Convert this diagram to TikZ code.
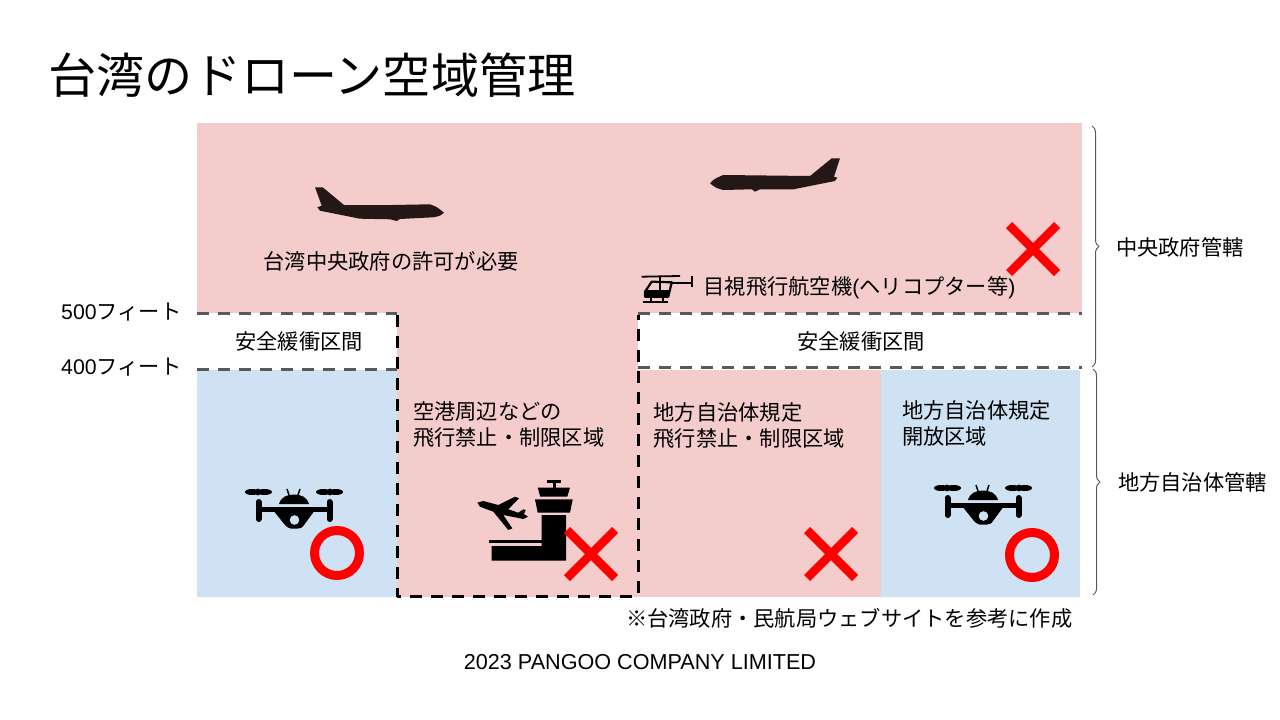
\documentclass[tikz,border=0pt]{standalone}
\usepackage{fontspec}
\setmainfont{Noto Sans CJK JP}
\newfontfamily\latinfont{Liberation Sans}
\usetikzlibrary{decorations.pathreplacing}
\definecolor{zonered}{HTML}{F4CCCC}
\definecolor{zoneblue}{HTML}{CFE2F3}
\definecolor{planeblk}{HTML}{231815}
\definecolor{dashgray}{HTML}{595959}
\definecolor{bracegray}{HTML}{595959}
\definecolor{markred}{HTML}{FF0000}
\tikzset{
  bodytext/.style={font=\fontsize{21.25}{26}\selectfont, text=black, inner sep=0pt, align=left},
  feettext/.style={bodytext, anchor=west},
  grayline/.style={dashgray, line width=3pt, dash pattern=on 12pt off 9pt},
  blackline/.style={black, line width=3pt, dash pattern=on 12pt off 9pt},
  bracket/.style={bracegray, line width=1pt, decorate, decoration={brace, amplitude=7pt, aspect=0.5}},
  nomark/.style={markred, line width=8.5pt},
  okmark/.style={markred, line width=9pt},
  droneicon/.pic={
    \fill (-42,-18) ellipse (7pt and 3pt) (-29.5,-18) ellipse (7.5pt and 3pt) (-36,-18) circle (3.4pt);
    \fill (29.5,-18) ellipse (7.5pt and 3pt) (42,-18) ellipse (7pt and 3pt) (36,-18) circle (3.4pt);
    \draw[line width=6pt, line cap=round] (-35.5,-8) -- (-35.5,9) (35.5,-8) -- (35.5,9);
    \draw[line width=5pt] (-35.5,-0.5) -- (35.5,-0.5);
    \fill (-15,-6) .. controls (-13,-13) and (-7,-15.5) .. (0,-15.5) .. controls (7,-15.5) and (13,-13) .. (15,-6) -- cycle;
    \draw[line width=1.5pt] (-5,-15) -- (-7,-21) (4,-15) -- (6,-21);
    \fill (-21,0) -- (-9,15) .. controls (-6,18) and (-4,18.5) .. (-3,18.5) -- (4,18.5) .. controls (6,18.5) and (8,18) .. (10,15) -- (21,0) -- cycle;
    \fill[zoneblue] (0.5,10) circle (4.8pt);
  }
}

\begin{document}
\begin{tikzpicture}[x=1pt, y=-1pt, line join=round]
\useasboundingbox (0,0) rectangle (1280,720);
\fill[white] (0,0) rectangle (1280,720);

% Title
\node[font=\fontsize{48.1}{56}\selectfont, inner sep=0pt, anchor=west] (title) at (48.5,75) {台湾のドローン空域管理};

% Zones
\fill[zonered] (197,123) rectangle (1082,313);
\fill[zonered] (397,313) rectangle (638,597);
\fill[zonered] (638,370) rectangle (881,597);
\fill[zoneblue] (197,370) rectangle (397,597);
\fill[zoneblue] (881,370) rectangle (1080,597);

% Dashed boundaries
\draw[blackline] (397,315) -- (397,596) -- (638,596) -- (638,315);
\draw[grayline] (197,313) -- (397,313);
\draw[grayline] (197,369) -- (397,369);
\draw[grayline] (638,313) -- (1082,313);
\draw[grayline] (638,367) -- (1082,367);

% Altitude labels
\node[feettext] (ft500) at (61,312) {{\latinfont 500}フィート};
\node[feettext] (ft400) at (61,367) {{\latinfont 400}フィート};

% Zone labels
\node[bodytext] (bufferL) at (299,341) {安全緩衝区間};
\node[bodytext] (bufferR) at (861,341) {安全緩衝区間};
\node[bodytext] (permit) at (391,261) {台湾中央政府の許可が必要};
\node[bodytext, anchor=west] (visual) at (703.5,288) {目視飛行航空機{\latinfont (}ヘリコプター等{\latinfont )}};
\node[bodytext, anchor=west] (airport) at (413,425) {空港周辺などの\\飛行禁止・制限区域};
\node[bodytext, anchor=west] (localNo) at (653.5,425) {地方自治体規定\\飛行禁止・制限区域};
\node[bodytext, anchor=west] (localOk) at (902,423) {地方自治体規定\\開放区域};

% Airplanes
\fill[planeblk] (315,187.3) -- (322.7,187.3) -- (344,205) -- (393,205) -- (430,204.3)
  .. controls (437,207) .. (444,212.7) .. controls (440,216) .. (433,217.3) -- (400,219) -- (396.7,221)
  -- (390,219.3) -- (360,218.7) -- (320,210.7) -- (317.3,207.3) -- (321.7,205.7) -- cycle;
\fill[planeblk] (710,183.3) .. controls (714,179) .. (723.3,175) -- (810,176) -- (831.7,158.3) -- (840,158.3)
  -- (834,176.7) -- (837.3,177.7) -- (835,181) -- (793.3,189.3) -- (760,189.3) -- (755,191.7)
  -- (751.7,189.3) -- (723.3,190) .. controls (716,188) .. (710,183.3) -- cycle;

% Helicopter
\draw[line width=1.8pt] (641.7,276.7) -- (680,276);
\draw[line width=2pt] (660,276) -- (660,296);
\draw[line width=2.2pt] (651.7,281.7) -- (671.7,282.3) -- (668.3,296.7) -- (645,296.7) -- (645,291.7) -- cycle;
\fill (645.5,290) -- (669.5,290) -- (668.3,297) -- (645,297) -- cycle;
\draw[line width=2.2pt] (670,283.3) -- (691,283.3);
\draw[line width=2pt] (691.7,276) -- (691.7,287.3);
\draw[line width=1.8pt] (643.3,302) -- (668.3,302) (651,297) -- (651,302) (663,297) -- (663,302);

% Drones
\pic at (294,510) {droneicon};
\pic at (983,506) {droneicon};

% Airport
\draw[line width=3pt] (546.7,481) -- (561,481);
\draw[line width=3pt] (554,481) -- (554,488);
\fill (537.7,487.7) -- (570,487.7) -- (567.3,496.7) -- (540.3,496.7) -- cycle;
\fill (535,499.3) -- (572.7,499.3) -- (570,512.7) -- (537.7,512.7) -- cycle;
\fill (541.7,515) -- (566,515) -- (566,560.7) -- (491.7,560.7) -- (491.7,546) -- (541.7,546) -- cycle;
\fill (489,539.7) rectangle (541.7,543.3);
\fill (477.3,502.7) -- (483.3,501) -- (498.3,505) -- (515,496.7) -- (519,498.3) -- (508.3,509.3) -- (518.3,512.7)
  -- (523.3,509.3) -- (525.7,510) -- (524,514) -- (528,516.7) -- (523.3,519) -- (503.3,515) -- (512.3,528.3)
  -- (508.3,530) -- (493.3,511.7) -- (480,506.7) -- cycle;

% Marks
\draw[nomark] (1009,225) -- (1057,273) (1009,273) -- (1057,225);
\draw[nomark] (567,530) -- (615,578) (567,578) -- (615,530);
\draw[nomark] (807,530) -- (855,578) (807,578) -- (855,530);
\draw[okmark] (337,553) circle (22.5pt);
\draw[okmark] (1032,555) circle (22.5pt);

% Braces
\draw[bracket] (1092,126) -- (1092,367);
\draw[bracket] (1093,369) -- (1093,595);
\node[bodytext, anchor=west] (central) at (1116,247) {中央政府管轄};
\node[bodytext, anchor=west] (local) at (1118,482) {地方自治体管轄};

% Footer
\node[bodytext, anchor=west] (source) at (626,618) {※台湾政府・民航局ウェブサイトを参考に作成};
\node[bodytext, font=\fontsize{21.6}{26}\selectfont\latinfont] (company) at (640,662) {2023 PANGOO COMPANY LIMITED};

\end{tikzpicture}
\end{document}
